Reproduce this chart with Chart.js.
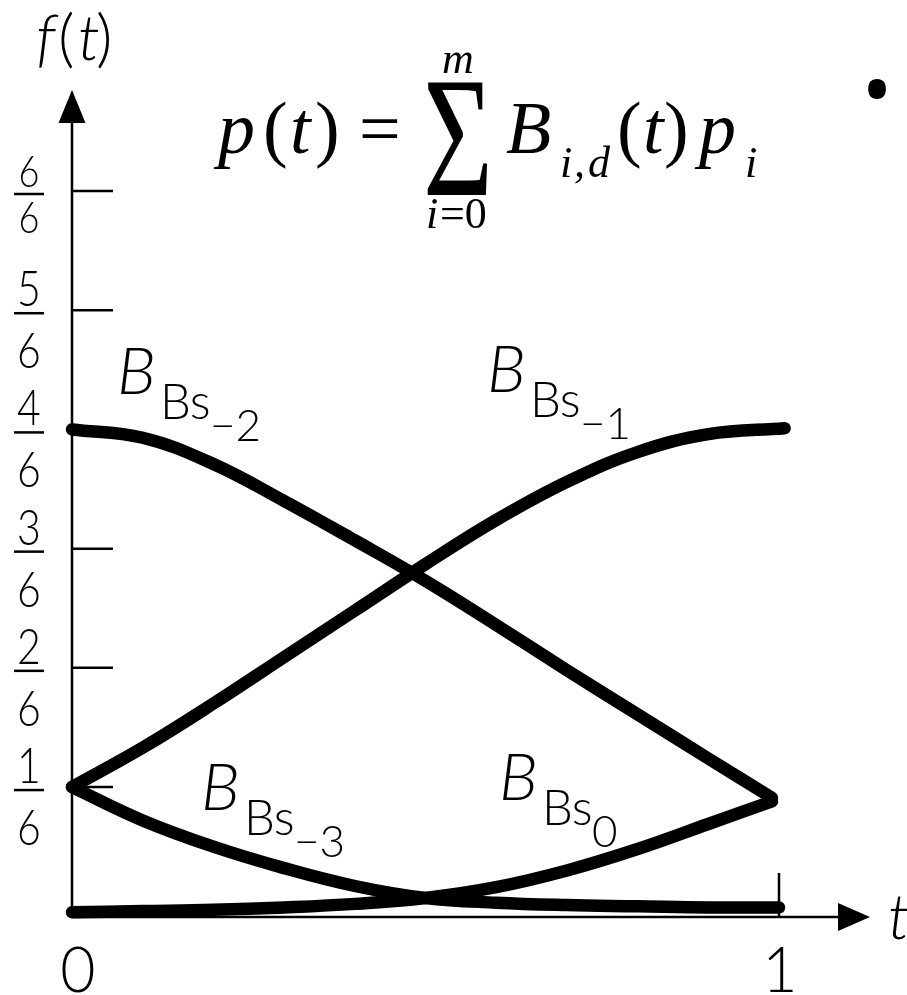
<!DOCTYPE html>
<html>
<head>
<meta charset="utf-8">
<title>B-spline basis</title>
<script src="https://cdn.jsdelivr.net/npm/chart.js@4.4.1/dist/chart.umd.min.js"></script>
<style>
  html, body { margin: 0; padding: 0; background: #fff; }
  #wrap { width: 907px; height: 995px; }
</style>
</head>
<body>
<div id="wrap"><canvas id="mycanvas" width="907" height="995"></canvas></div>
<script>
// basis pieces on one knot span, values in sixths
var tBs3 = [0, 0.1, 0.2, 0.3, 0.4, 0.5, 0.6, 0.7, 0.8, 0.9, 1.0];
var bs3  = [1.00, 0.72, 0.50, 0.32, 0.17, 0.07, 0.03, 0.01, 0.00, -0.01, -0.01];

var tBs2 = [0, 0.1, 0.2, 0.3, 0.4, 0.5, 0.6, 0.7, 0.8, 0.9, 0.99];
var bs2  = [4.00, 3.93, 3.71, 3.40, 3.07, 2.73, 2.36, 1.98, 1.61, 1.24, 0.91];

var tBs1 = [0, 0.1, 0.2, 0.3, 0.4, 0.5, 0.6, 0.7, 0.8, 0.9, 1.008];
var bs1  = [1.00, 1.33, 1.70, 2.09, 2.48, 2.87, 3.24, 3.56, 3.81, 3.96, 4.01];

var tBs0 = [0, 0.1, 0.2, 0.3, 0.4, 0.5, 0.6, 0.7, 0.8, 0.9, 0.99];
var bs0  = [-0.05, -0.04, -0.03, -0.01, 0.02, 0.07, 0.16, 0.30, 0.48, 0.69, 0.88];

var yTicks = [1, 2, 3, 4, 5, 6];   // numerators, all over 6
var xTicks = [0, 1];

var SANS = 'Lato, "Noto Sans", sans-serif';
var SERIF = '"Liberation Serif", "DejaVu Serif", serif';

function toPoints(ts, vs) {
    var pts = [];
    for (var i in ts) {
        pts.push({ x: ts[i], y: vs[i] });
    }
    return pts;
}

function curve(ts, vs) {
    return {
        data: toPoints(ts, vs),
        borderColor: '#000',
        borderWidth: 12.5,
        borderCapStyle: 'round',
        borderJoinStyle: 'round',
        tension: 0.4,
        pointRadius: 0,
        fill: false,
        clip: false
    };
}

function txt(ctx, s, x, y, font, sx, align) {
    ctx.save();
    ctx.translate(x, y);
    ctx.scale(sx || 1, 1);
    ctx.font = font;
    ctx.textAlign = align || 'left';
    ctx.textBaseline = 'alphabetic';
    ctx.fillText(s, 0, 0);
    ctx.restore();
}

// B with a "Bs" subscript and a second-level index
function basisLabel(ctx, x, y, idx) {
    txt(ctx, 'B', x, y, 'italic 300 66px ' + SANS, 1.0);
    txt(ctx, 'Bs', x + 43, y + 25, '300 49px ' + SANS, 1.0);
    txt(ctx, idx, x + 93, y + 47, '300 44px ' + SANS, 1.0);
}

var arrowAxes = {
    id: 'arrowAxes',
    beforeDatasetsDraw: function(chart) {
        var ctx = chart.ctx;
        var xs = chart.scales.x, ys = chart.scales.y;
        var x0 = xs.getPixelForValue(0);
        var yb = chart.chartArea.bottom;
        ctx.save();
        ctx.strokeStyle = '#000';
        ctx.fillStyle = '#000';
        ctx.lineWidth = 2.5;
        ctx.beginPath();
        ctx.moveTo(x0, yb); ctx.lineTo(x0, 120);
        ctx.moveTo(x0, yb); ctx.lineTo(842, yb);
        for (var i in yTicks) {
            var y = ys.getPixelForValue(yTicks[i]);
            ctx.moveTo(x0, y); ctx.lineTo(x0 + 41, y);
        }
        var x1 = xs.getPixelForValue(1);
        ctx.moveTo(x1, yb); ctx.lineTo(x1, yb - 44);
        ctx.stroke();

        ctx.beginPath();
        ctx.moveTo(x0, 90); ctx.lineTo(x0 - 13.5, 123); ctx.lineTo(x0 + 13.5, 123);
        ctx.closePath();
        ctx.fill();
        ctx.beginPath();
        ctx.moveTo(870, yb); ctx.lineTo(838, yb - 14); ctx.lineTo(838, yb + 14);
        ctx.closePath();
        ctx.fill();
        ctx.restore();
    },
    afterDraw: function(chart) {
        var ctx = chart.ctx;
        var xs = chart.scales.x, ys = chart.scales.y;
        ctx.save();
        ctx.fillStyle = '#000';
        ctx.strokeStyle = '#000';

        // fractions on the value axis
        for (var i in yTicks) {
            var k = yTicks[i];
            var T = ys.getPixelForValue(k);
            var size = k === 6 ? 44 : 50;
            var below = k === 6 ? 42 : 58;
            txt(ctx, String(k), 29, T - 4, '300 ' + size + 'px ' + SANS, 0.82, 'center');
            txt(ctx, '6', 29, T + below, '300 ' + size + 'px ' + SANS, 0.82, 'center');
            ctx.lineWidth = 2.5;
            ctx.beginPath();
            ctx.moveTo(14, T + 3); ctx.lineTo(44, T + 3);
            ctx.stroke();
        }

        for (var j in xTicks) {
            var xp = xs.getPixelForValue(xTicks[j]);
            txt(ctx, String(xTicks[j]), xp + (j == 0 ? 6 : 1), 992, '300 64px ' + SANS, 0.95, 'center');
        }

        // f(t) over the value axis, t beside the time axis
        var ax = 'italic 300 64px ' + SANS, axUp = '300 64px ' + SANS;
        txt(ctx, 'f', 36, 60, ax);
        txt(ctx, '(', 58, 60, axUp);
        txt(ctx, 't', 78, 60, ax);
        txt(ctx, ')', 96, 60, axUp);
        txt(ctx, 't', 888, 939, ax);

        // p(t) = sum B_{i,d}(t) p_i
        var it = 'italic 74px ' + SERIF, up = '74px ' + SERIF;
        var itS = 'italic 44px ' + SERIF, upS = '44px ' + SERIF;
        txt(ctx, 'p', 218, 153, it);
        txt(ctx, '(', 263, 153, up);
        txt(ctx, 't', 290, 153, it);
        txt(ctx, ')', 315, 153, up);
        txt(ctx, '=', 359, 153, up);
        txt(ctx, 'Σ', 423, 195, '172px ' + SERIF, 0.7);
        txt(ctx, 'm', 442, 73, itS);
        txt(ctx, 'i', 426, 228, itS);
        txt(ctx, '=0', 440, 228, upS);
        txt(ctx, 'B', 506, 153, it);
        txt(ctx, 'i', 560, 177, itS);
        txt(ctx, ',', 574, 177, itS);
        txt(ctx, 'd', 588, 177, itS);
        txt(ctx, '(', 617, 153, up);
        txt(ctx, 't', 643, 153, it);
        txt(ctx, ')', 664, 153, up);
        txt(ctx, 'p', 699, 153, it);
        txt(ctx, 'i', 745, 177, itS);

        txt(ctx, '•', 877, 118, '80px "Noto Sans", sans-serif', 1.0, 'center');

        basisLabel(ctx, 117, 394, '−2');
        basisLabel(ctx, 487, 392, '−1');
        basisLabel(ctx, 201, 810, '−3');
        basisLabel(ctx, 499, 800, '0');
        ctx.restore();
    }
};

var ctx = document.getElementById('mycanvas').getContext('2d');
var chart = new Chart(ctx, {
    type: 'line',
    data: {
        datasets: [
            curve(tBs3, bs3),
            curve(tBs2, bs2),
            curve(tBs1, bs1),
            curve(tBs0, bs0)
        ]
    },
    options: {
        responsive: false,
        animation: false,
        devicePixelRatio: 1,
        layout: { padding: { left: 72, right: 128, top: 191, bottom: 78 } },
        scales: {
            x: { type: 'linear', min: 0, max: 1, display: false },
            y: { type: 'linear', min: -0.09, max: 6, display: false }
        },
        plugins: {
            legend: { display: false },
            tooltip: { enabled: false }
        }
    },
    plugins: [arrowAxes]
});
</script>
</body>
</html>
